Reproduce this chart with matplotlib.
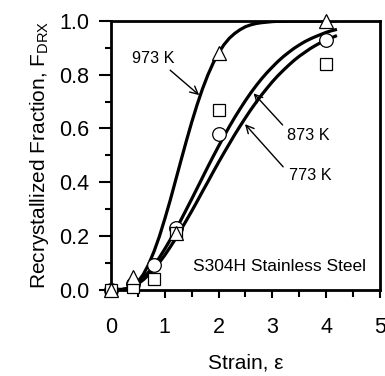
import matplotlib
matplotlib.use("Agg")
import matplotlib.pyplot as plt
from matplotlib.ticker import MultipleLocator

plt.rcParams['font.family'] = ['Liberation Sans', 'DejaVu Sans']
plt.rcParams['mathtext.fontset'] = 'custom'
plt.rcParams['mathtext.rm'] = 'Liberation Sans'
plt.rcParams['mathtext.it'] = 'Liberation Sans:italic'

# measured data points
strain_pts = [0.0, 0.4, 0.8, 1.2, 2.0, 4.0]
f_773 = [0.0, 0.01, 0.04, 0.21, 0.67, 0.84]
f_873 = [0.0, 0.02, 0.09, 0.23, 0.58, 0.93]
strain_973 = [0.0, 0.4, 1.2, 2.0, 4.0]
f_973 = [0.0, 0.045, 0.21, 0.88, 1.0]

# fitted curves
strain_fit = [0.0, 0.2, 0.3, 0.4, 0.5, 0.6, 0.7, 0.8, 0.9, 1.0, 1.1, 1.2, 1.3, 1.4,
              1.5, 1.6, 1.7, 1.8, 1.9, 2.0, 2.1, 2.2, 2.3, 2.4, 2.5, 2.6, 2.7, 2.8,
              2.9, 3.0, 3.1, 3.2, 3.3, 3.4, 3.5, 3.6, 3.7, 3.8, 3.9, 4.0, 4.1, 4.2]
fit_973 = [0, 0, 0.002, 0.011, 0.029, 0.056, 0.094, 0.142, 0.198, 0.263, 0.332, 0.406,
           0.480, 0.553, 0.623, 0.688, 0.747, 0.799, 0.844, 0.881, 0.912, 0.936, 0.954,
           0.968, 0.979, 0.986, 0.991, 0.994, 0.996, 0.998, 0.999, 0.999,
           1.0, 1.0, 1.0, 1.0, 1.0, 1.0, 1.0, 1.0, 1.0, 1.0]
fit_873 = [0, 0, 0.003, 0.012, 0.025, 0.043, 0.065, 0.090, 0.119, 0.151, 0.185, 0.221,
           0.259, 0.298, 0.337, 0.377, 0.417, 0.457, 0.496, 0.534, 0.571, 0.607, 0.641,
           0.673, 0.704, 0.733, 0.760, 0.785, 0.808, 0.829, 0.849, 0.867, 0.883, 0.898,
           0.911, 0.923, 0.933, 0.942, 0.950, 0.958, 0.964, 0.969]
fit_773 = [0, 0, 0.003, 0.010, 0.021, 0.036, 0.055, 0.077, 0.101, 0.128, 0.158, 0.189,
           0.223, 0.257, 0.292, 0.328, 0.365, 0.401, 0.438, 0.474, 0.509, 0.543, 0.577,
           0.609, 0.640, 0.670, 0.698, 0.725, 0.750, 0.774, 0.796, 0.816, 0.835, 0.853,
           0.869, 0.883, 0.897, 0.909, 0.920, 0.930, 0.938, 0.946]

fig = plt.figure(figsize=(3.85, 3.76), dpi=100)
ax = fig.add_axes([0.2883, 0.230, 0.6987, 0.714])

lw = 2.3
ax.plot(strain_fit, fit_973, color='k', lw=lw, zorder=2, solid_capstyle='butt')
ax.plot(strain_fit, fit_873, color='k', lw=lw, zorder=2, solid_capstyle='butt')
ax.plot(strain_fit, fit_773, color='k', lw=lw, zorder=2, solid_capstyle='butt')

mk = dict(linestyle='none', markerfacecolor='white', markeredgecolor='k',
          markeredgewidth=0.9, zorder=3, clip_on=False)
ax.plot(strain_pts, f_873, marker='o', ms=9.8, **mk)
ax.plot(strain_pts, f_773, marker='s', ms=8.8, **mk)
ax.plot(strain_973, f_973, marker='^', ms=10.5, **mk)

ax.set_xlim(0, 5)
ax.set_ylim(0, 1.0)
ax.xaxis.set_major_locator(MultipleLocator(1))
ax.xaxis.set_minor_locator(MultipleLocator(0.5))
ax.yaxis.set_major_locator(MultipleLocator(0.2))
ax.yaxis.set_minor_locator(MultipleLocator(0.1))
ax.yaxis.set_major_formatter(matplotlib.ticker.FormatStrFormatter('%.1f'))

for s in ax.spines.values():
    s.set_linewidth(2.0)
ax.tick_params(axis='both', which='both', direction='out', width=1.5,
               top=False, right=False, labelsize=15.5)
ax.tick_params(axis='y', which='major', length=8.5, pad=7)
ax.tick_params(axis='y', which='minor', length=4.5)
ax.tick_params(axis='x', which='major', length=6, pad=14)
ax.tick_params(axis='x', which='minor', length=5)

ax.set_xlabel('Strain, ε', fontsize=15, labelpad=11)
ax.set_ylabel(r'Recrystallized Fraction, F$_{\mathrm{DRX}}$', fontsize=15, labelpad=6)

ap = dict(arrowstyle='->', lw=1.0, color='k', mutation_scale=14, shrinkA=0, shrinkB=0)
ax.annotate('', xy=(1.64, 0.724), xytext=(1.10, 0.817), arrowprops=ap)
ax.annotate('', xy=(2.65, 0.731), xytext=(3.19, 0.613), arrowprops=ap)
ax.annotate('', xy=(2.49, 0.616), xytext=(3.20, 0.457), arrowprops=ap)

ax.text(0.78, 0.862, '973 K', fontsize=11.7, ha='center', va='center')
ax.text(3.67, 0.572, '873 K', fontsize=11.7, ha='center', va='center')
ax.text(3.70, 0.424, '773 K', fontsize=11.7, ha='center', va='center')
ax.text(3.14, 0.085, 'S304H Stainless Steel', fontsize=12.5, ha='center', va='center')

fig.savefig('out.png', dpi=100)
